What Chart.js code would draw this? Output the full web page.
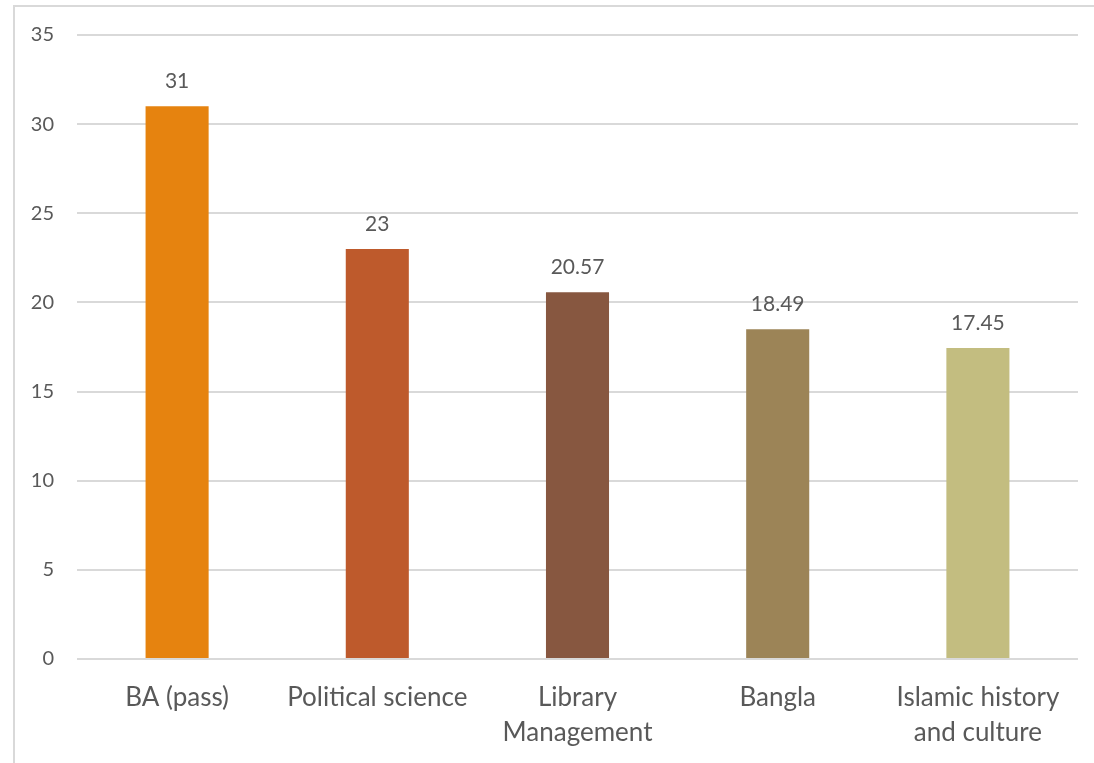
<!DOCTYPE html>
<html lang="en">
   <head>
      <meta charset="UTF-8">
      <title>Bar chart</title>
      <script src="https://cdn.jsdelivr.net/npm/chart.js"></script>
      <style>
         html, body { margin: 0; padding: 0; background: #fff; overflow: hidden; }
         .frame { position: absolute; left: 13px; top: 5px; width: 1200px; height: 900px; border: 2px solid #d9d9d9; box-sizing: border-box; }
         .chart-box { position: absolute; left: 0; top: 0; width: 1094px; height: 763px; }
      </style>
   </head>
   <body>
      <div class="frame"></div>
      <div class="chart-box">
         <canvas id="barChart"></canvas>
      </div>
      <script>
         // dados do gráfico
         const categories = ['BA (pass)', 'Political science', ['Library', 'Management'], 'Bangla', ['Islamic history', 'and culture']];
         const values = [31, 23, 20.57, 18.49, 17.45];
         const barColors = ['#E6830F', '#BE5A2C', '#875740', '#9C8457', '#C3BD80'];
         const yTicks = [0, 5, 10, 15, 20, 25, 30, 35];

         const fontFamily = 'Lato, "Open Sans", sans-serif';
         const textColor = '#595959';

         // rótulos de valores acima das barras
         const valueLabels = {
             id: 'valueLabels',
             afterDatasetsDraw(chart) {
                 const ctx = chart.ctx;
                 const meta = chart.getDatasetMeta(0);
                 ctx.save();
                 ctx.font = '21px ' + fontFamily;
                 ctx.fillStyle = textColor;
                 ctx.textAlign = 'center';
                 ctx.textBaseline = 'middle';
                 meta.data.forEach((bar, i) => {
                     ctx.fillText(String(values[i]), bar.x, bar.y - 25);
                 });
                 ctx.restore();
             }
         };

         document.addEventListener("DOMContentLoaded", function () {
             const ctx = document.getElementById('barChart').getContext('2d');
             new Chart(ctx, {
                 type: 'bar',
                 data: {
                     labels: categories,
                     datasets: [{
                         data: values,
                         backgroundColor: barColors,
                         borderWidth: 0,
                         categoryPercentage: 1,
                         barPercentage: 0.315
                     }]
                 },
                 options: {
                     responsive: true,
                     maintainAspectRatio: false,
                     animation: false,
                     layout: { padding: { top: 35, right: 16, left: 0, bottom: 0 } },
                     plugins: {
                         legend: { display: false },
                         tooltip: { enabled: false }
                     },
                     scales: {
                         y: {
                             min: 0,
                             max: 35,
                             afterBuildTicks(axis) { axis.ticks = yTicks.map(v => ({ value: v })); },
                             afterFit(axis) { axis.width = 77; },
                             grid: { color: '#d9d9d9', lineWidth: 2, drawTicks: false },
                             border: { display: false },
                             ticks: { color: textColor, font: { family: fontFamily, size: 20 }, padding: 23 }
                         },
                         x: {
                             afterFit(axis) { axis.height = 104; },
                             grid: { display: false, drawTicks: false },
                             border: { display: false },
                             ticks: { color: textColor, font: { family: fontFamily, size: 26, lineHeight: 1.35 }, padding: 21, maxRotation: 0, autoSkip: false }
                         }
                     }
                 },
                 plugins: [valueLabels]
             });
         });
      </script>
   </body>
</html>
